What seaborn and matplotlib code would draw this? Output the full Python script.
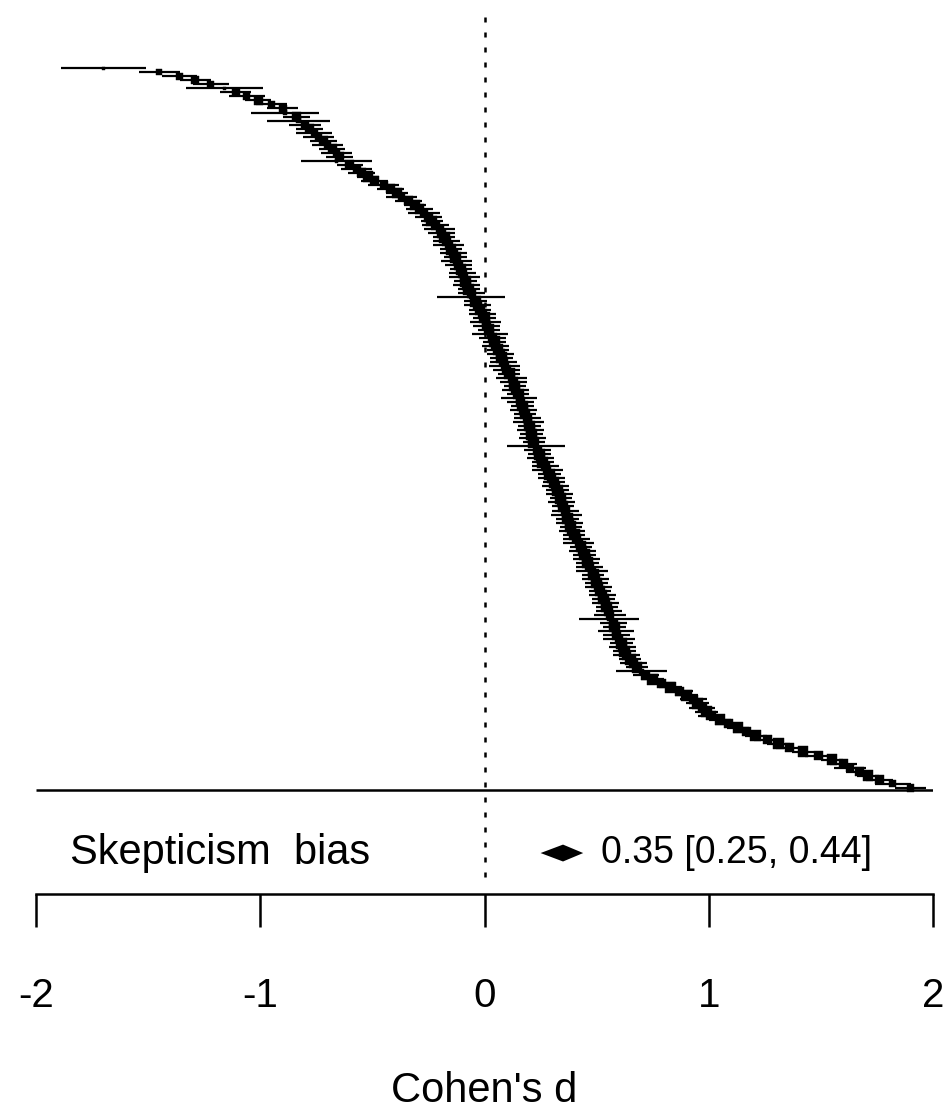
import numpy as np
import pandas as pd
import matplotlib
matplotlib.use("Agg")
import matplotlib.pyplot as plt
import seaborn as sns

# Study effect sizes (Cohen's d), sorted from most negative to most positive
effect = [
    -1.70, -1.45, -1.36, -1.29, -1.22, -1.16, -1.11, -1.06, -1.01, -0.95,
    -0.90, -0.89, -0.84, -0.83, -0.80, -0.78, -0.76, -0.74, -0.72, -0.70,
    -0.68, -0.66, -0.645, -0.66, -0.60, -0.57, -0.55, -0.52, -0.49, -0.45,
    -0.42, -0.39, -0.37, -0.34, -0.31, -0.29, -0.27, -0.25, -0.235, -0.22,
    -0.20, -0.19, -0.18, -0.17, -0.16, -0.15, -0.14, -0.13, -0.125, -0.115,
    -0.105, -0.10, -0.09, -0.085, -0.08, -0.07, -0.06, -0.06, -0.04, -0.03,
    -0.02, -0.01, 0.00, 0.005, 0.01, 0.02, 0.025, 0.035, 0.045, 0.05,
    0.06, 0.07, 0.075, 0.085, 0.09, 0.10, 0.11, 0.12, 0.13, 0.135,
    0.14, 0.15, 0.155, 0.16, 0.17, 0.175, 0.18, 0.19, 0.195, 0.20,
    0.205, 0.21, 0.215, 0.22, 0.23, 0.235, 0.245, 0.25, 0.26, 0.27,
    0.28, 0.29, 0.30, 0.31, 0.315, 0.325, 0.335, 0.34, 0.345, 0.35,
    0.36, 0.365, 0.37, 0.38, 0.385, 0.39, 0.40, 0.41, 0.42, 0.43,
    0.435, 0.445, 0.455, 0.46, 0.47, 0.48, 0.485, 0.495, 0.50, 0.51,
    0.515, 0.525, 0.53, 0.54, 0.545, 0.555, 0.56, 0.555, 0.575, 0.58,
    0.585, 0.59, 0.60, 0.61, 0.615, 0.625, 0.635, 0.65, 0.665, 0.68,
    0.70, 0.72, 0.75, 0.79, 0.83, 0.87, 0.90, 0.93, 0.95, 0.97,
    0.99, 1.01, 1.05, 1.09, 1.13, 1.17, 1.21, 1.26, 1.31, 1.36,
    1.42, 1.49, 1.55, 1.60, 1.63, 1.67, 1.71, 1.76, 1.82, 1.90,
]

# Half-width of each 95% CI
half_width = [
    0.19, 0.09, 0.08, 0.07, 0.08, 0.17, 0.07, 0.08, 0.06, 0.07,
    0.07, 0.15, 0.06, 0.14, 0.07, 0.06, 0.08, 0.07, 0.06, 0.07,
    0.06, 0.07, 0.06, 0.16, 0.06, 0.07, 0.06, 0.05, 0.06, 0.07,
    0.06, 0.05, 0.07, 0.06, 0.05, 0.06, 0.07, 0.06, 0.05, 0.06,
    0.07, 0.06, 0.05, 0.06, 0.07, 0.05, 0.06, 0.05, 0.07, 0.06,
    0.05, 0.06, 0.07, 0.05, 0.06, 0.05, 0.06, 0.15, 0.05, 0.06,
    0.05, 0.06, 0.05, 0.07, 0.06, 0.05, 0.08, 0.06, 0.05, 0.06,
    0.05, 0.06, 0.05, 0.06, 0.07, 0.06, 0.05, 0.07, 0.06, 0.05,
    0.06, 0.05, 0.08, 0.06, 0.05, 0.06, 0.05, 0.06, 0.07, 0.05,
    0.06, 0.05, 0.06, 0.05, 0.13, 0.06, 0.05, 0.06, 0.05, 0.06,
    0.07, 0.05, 0.06, 0.05, 0.06, 0.05, 0.06, 0.05, 0.06, 0.05,
    0.06, 0.07, 0.05, 0.06, 0.05, 0.06, 0.05, 0.06, 0.07, 0.05,
    0.06, 0.05, 0.06, 0.05, 0.06, 0.07, 0.05, 0.06, 0.05, 0.06,
    0.05, 0.06, 0.05, 0.06, 0.05, 0.06, 0.07, 0.135, 0.06, 0.05,
    0.08, 0.06, 0.07, 0.05, 0.06, 0.05, 0.06, 0.05, 0.06, 0.05,
    0.115, 0.06, 0.05, 0.06, 0.05, 0.06, 0.05, 0.06, 0.05, 0.06,
    0.05, 0.06, 0.05, 0.06, 0.05, 0.06, 0.05, 0.06, 0.05, 0.06,
    0.05, 0.06, 0.05, 0.06, 0.07, 0.06, 0.05, 0.06, 0.08, 0.07,
]

# Pooled estimate
summary_label = "Skepticism  bias"
summary_est = 0.35
summary_ci = [0.25, 0.44]
xticks = [-2, -1, 0, 1, 2]

n = len(effect)
df = pd.DataFrame({
    "d": effect,
    "hw": half_width,
})
df["row"] = np.arange(n, 0, -1)
df["lo"] = df["d"] - df["hw"]
df["hi"] = df["d"] + df["hw"]
df["weight"] = 1 / df["hw"] ** 2

sns.set_style("white")
plt.rcParams["font.family"] = ["Liberation Sans", "DejaVu Sans"]
plt.rcParams["text.color"] = "black"
plt.rcParams["axes.labelcolor"] = "black"

fig = plt.figure(figsize=(9.48, 11.12), dpi=100)
ax = fig.add_axes([0.038, 0.196, 0.9462, 0.7914])

# CI lines and study markers
ax.hlines(df["row"], df["lo"], df["hi"], color="black", lw=1.6, clip_on=False)
sns.scatterplot(data=df, x="d", y="row", size="weight", sizes=(6, 60),
                marker="s", color="black", edgecolor="black", linewidth=0.3,
                legend=False, ax=ax, clip_on=False)

ylim_top = 193.5
y_sum = -15.2

# reference lines
ax.vlines(0, -21.1, ylim_top, color="black", lw=1.8, linestyles=(0, (2, 4)))
ax.hlines(0.5, -2, 2, color="black", lw=1.8)

# summary diamond
ax.fill([summary_ci[0], summary_est, summary_ci[1], summary_est],
        [y_sum, y_sum + 2.1, y_sum, y_sum - 2.1], color="black", lw=0)
ax.text(-1.85, y_sum, summary_label, ha="left", va="center", fontsize=30)
ax.text(0.52, y_sum, f"{summary_est:.2f} [{summary_ci[0]:.2f}, {summary_ci[1]:.2f}]",
        ha="left", va="center", fontsize=27)

ax.set_xlim(-2, 2)
ax.set_ylim(-25.4, ylim_top)
for s in ["top", "right", "left"]:
    ax.spines[s].set_visible(False)
ax.spines["bottom"].set_linewidth(1.8)
ax.spines["bottom"].set_color("black")
ax.set_yticks([])
ax.set_xticks(xticks)
ax.set_xticklabels([str(t) for t in xticks])
ax.tick_params(axis="x", direction="out", length=24, width=1.8, pad=36,
               labelsize=29, colors="black", bottom=True)
ax.set_xlabel("Cohen's d", fontsize=30, labelpad=40)
ax.set_ylabel("")

fig.savefig("out.png", dpi=100)
